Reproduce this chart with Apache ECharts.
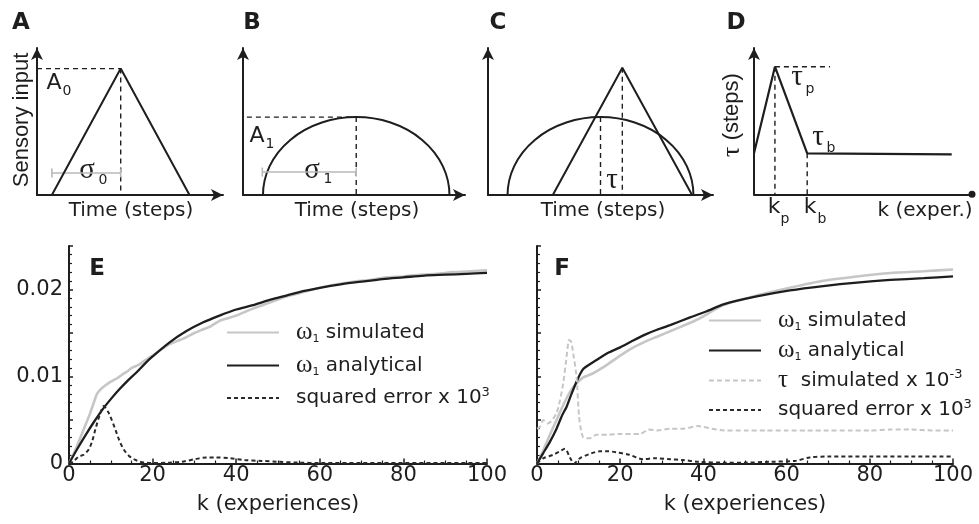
<!DOCTYPE html>
<html>
<head>
<meta charset="utf-8">
<script src="https://cdn.jsdelivr.net/npm/echarts@6.0.0/dist/echarts.min.js"></script>
<style>
  html, body { margin: 0; padding: 0; background: #fff; }
  #chart { width: 979px; height: 524px; }
</style>
</head>
<body>
<div id="chart"></div>
<script>
// ---------- schematic shapes, panels A–D (0–100 units on each small plot) ----------
const aTriangle = [[8, 0], [45, 86], [82, 0]];
const aPeakH = [[0, 86], [45, 86]];
const aPeakV = [[45, 86], [45, 0]];
const aSigma = [[8, 15], [45, 15]];

// half-ellipse: [centre, half-width, height]
const bArc = [[51, 42, 53]];
const bPeakH = [[-2.3, 53], [51, 53]];
const bPeakV = [[51, 53], [51, 0]];
const bSigma = [[8.7, 15.6], [51, 15.6]];

const cArc = [[50, 41.3, 53]];
const cTriangle = [[28.8, 0], [59.7, 86.6], [90.7, 0]];
const cArcPeakV = [[50, 53], [50, 0]];
const cTriPeakV = [[59.7, 86.6], [59.7, 0]];

const dTau = [[0, 28], [9.6, 87.2], [24.4, 28], [90.7, 27.3]];
const dPeakH = [[9.6, 87.2], [34.9, 87.2]];
const dPeakV = [[9.6, 87.2], [9.6, 0]];
const dBaseV = [[24.4, 28], [24.4, 0]];

// ---------- panel E: [k, value] ----------
const eSimulated = [[0,0],[1,0.0010],[2,0.0021],[3,0.0033],[4,0.0045],[5,0.0057],[6,0.0071],[6.7,0.0080],[7.5,0.0085],[8.5,0.0089],[10,0.0094],[11.5,0.0098],[12.7,0.0102],[14,0.0106],[15,0.0110],[16.5,0.0113],[18,0.0118],[20,0.0124],[22,0.0131],[24,0.0137],[26,0.0141],[28,0.0145],[30,0.0150],[32,0.0154],[34,0.0158],[36,0.0164],[38,0.0167],[40,0.0170],[44,0.0178],[48,0.0185],[52,0.0192],[56,0.0197],[60,0.0202],[64,0.0206],[68,0.0209],[72,0.0211],[76,0.0214],[80,0.0215],[84,0.0217],[88,0.0218],[92,0.0220],[96,0.0221],[100,0.0222]];
const eAnalytical = [[0,0],[2,0.0017],[4,0.0033],[6,0.0048],[8,0.0062],[10,0.0074],[12,0.0085],[14,0.0095],[16,0.0104],[18,0.0114],[20,0.0123],[24,0.0139],[28,0.0152],[32,0.0162],[36,0.0170],[40,0.0177],[44,0.0182],[48,0.0188],[52,0.0193],[56,0.0198],[60,0.0202],[65,0.0206],[70,0.0209],[75,0.0212],[80,0.0214],[85,0.0216],[90,0.0217],[95,0.0218],[100,0.0219]];
const eSqError = [[0,0],[1,0.0002],[2.3,0.0008],[3.5,0.0010],[4.7,0.0016],[5.5,0.0025],[6.3,0.0039],[7.3,0.0055],[8.3,0.0066],[9.5,0.0058],[11.1,0.0039],[12,0.0027],[13.1,0.0016],[14.3,0.0009],[15.5,0.0005],[17,0.0002],[18.2,0.0001],[20,0.00005],[24,0.0001],[27,0.0002],[30.2,0.0005],[33,0.0007],[35,0.0007],[38.6,0.0006],[42,0.0004],[46,0.0003],[50,0.0002],[55,0.0001],[60,0.00005],[70,0.00005],[80,0.00005],[90,0.00005],[100,0.00005]];

// ---------- panel F: [k, value] ----------
const fSimulated = [[0,0],[1.5,0.0015],[3,0.0032],[4.7,0.0050],[6,0.0064],[7.1,0.0075],[8.3,0.0085],[9.5,0.0092],[11.1,0.0099],[12.7,0.0102],[14.3,0.0106],[17,0.0114],[20,0.0124],[23,0.0133],[26.4,0.0141],[29,0.0146],[32,0.0152],[35,0.0158],[38.8,0.0166],[44.8,0.0182],[52.8,0.0193],[60.8,0.0202],[68.8,0.0210],[76.9,0.0215],[84.9,0.0219],[92.9,0.0221],[100,0.0223]];
const fAnalytical = [[0,0],[1.5,0.0012],[3,0.0024],[4.7,0.0040],[6,0.0055],[7.1,0.0065],[8.3,0.0080],[9.5,0.0094],[10.5,0.0104],[11.2,0.0109],[12.7,0.0114],[14.3,0.0119],[17,0.0127],[20,0.01335],[23,0.0141],[26.4,0.0149],[29,0.0154],[32,0.0159],[36.8,0.0168],[40.8,0.0175],[44.8,0.0183],[52.8,0.0192],[60.8,0.0199],[68.8,0.0204],[76.9,0.0208],[84.9,0.0211],[92.9,0.0213],[100,0.0215]];
const fTau = [[0,0.0040],[0.7,0.0042],[1.5,0.0050],[2.5,0.0046],[3.5,0.0049],[4.7,0.0058],[5.5,0.0072],[6.3,0.0092],[7,0.0118],[7.7,0.0142],[8.2,0.0140],[8.6,0.0130],[9.5,0.0100],[10.1,0.0054],[10.6,0.0038],[11.1,0.0030],[12.7,0.0029],[14.3,0.0033],[17,0.0033],[20,0.0034],[24.8,0.0034],[26.8,0.0039],[29,0.0038],[32,0.0040],[35,0.0040],[38.8,0.0043],[42,0.0040],[45,0.0038],[50,0.0038],[55,0.0038],[60,0.0038],[65,0.0038],[70,0.0038],[75,0.0038],[80,0.0038],[85,0.0039],[90,0.0039],[95,0.0038],[100,0.0038]];
const fSqError = [[0,0],[1.5,0.0006],[3.9,0.0010],[5.5,0.0014],[6.7,0.0017],[7.9,0.0007],[8.9,0.0000],[10.3,0.0006],[12.7,0.0011],[15.1,0.0014],[17,0.0014],[19,0.0013],[22.2,0.0010],[25.4,0.0005],[28.5,0.0006],[32,0.0005],[35,0.0004],[38.8,0.0002],[45,0.0001],[50,0.0001],[56,0.0002],[62,0.0003],[65.6,0.0007],[70,0.0008],[80,0.0008],[90,0.0008],[100,0.0008]];

// ---------- tick labels ----------
const kTickValues = [0, 20, 40, 60, 80, 100];
const yTickLabels = { 0.01: '0.01', 0.02: '0.02' };
const yOriginLabel = '0';

const INK = '#1e1e1e';
const GREY = '#c6c6c6';
const SANS = 'DejaVu Sans';
const SERIF = 'Liberation Serif';

const SIM = 'ω1 simulated';
const ANA = 'ω1 analytical';
const TAU = 'τ simulated x 10-3';
const ERR = 'squared error x 103';

// plot areas: A, B, C, D (schematics), E, F (results)
const grids = [
  { left: 37,  top: 48,  width: 186, height: 147 },
  { left: 243, top: 48,  width: 222, height: 147 },
  { left: 488, top: 48,  width: 225, height: 147 },
  { left: 754, top: 48,  width: 218, height: 146.3 },
  { left: 69,  top: 246, width: 418, height: 217.5 },
  { left: 537, top: 246, width: 416, height: 217.5 }
];

function sketchAxis(gi, endSymbol, endSize) {
  return {
    gridIndex: gi, type: 'value', min: 0, max: 100,
    axisLine: { show: true, onZero: false, symbol: ['none', endSymbol], symbolSize: endSize,
      lineStyle: { color: INK, width: 2 } },
    axisTick: { show: false }, axisLabel: { show: false }, splitLine: { show: false }
  };
}

function kAxis(gi) {
  return {
    gridIndex: gi, type: 'value', min: 0, max: 100, interval: 20,
    axisLine: { show: true, onZero: false, lineStyle: { color: INK, width: 2 } },
    axisTick: { show: true, inside: true, length: 5, lineStyle: { color: INK, width: 1.5 } },
    minorTick: { show: true, splitNumber: 4, length: 3, lineStyle: { color: INK, width: 1.2 } },
    axisLabel: { color: INK, fontFamily: SANS, fontSize: 21, margin: 2,
      formatter: v => kTickValues.includes(v) ? String(v) : '' },
    splitLine: { show: false }, minorSplitLine: { show: false },
    name: 'k (experiences)', nameLocation: 'middle', nameGap: 31,
    nameTextStyle: { color: INK, fontFamily: SANS, fontSize: 21 }
  };
}

function wAxis(gi, labels) {
  return {
    gridIndex: gi, type: 'value', min: 0, max: 0.025, interval: 0.005,
    axisLine: { show: true, onZero: false, lineStyle: { color: INK, width: 2 } },
    axisTick: { show: true, inside: true, length: 4, lineStyle: { color: INK, width: 1.5 } },
    minorTick: { show: true, splitNumber: 5, length: 3, lineStyle: { color: INK, width: 1.2 } },
    axisLabel: { show: labels, color: INK, fontFamily: SANS, fontSize: 21, margin: 6,
      formatter: v => { const key = Math.round(v * 1000) / 1000; return yTickLabels[key] !== undefined ? yTickLabels[key] : ''; } },
    splitLine: { show: false }, minorSplitLine: { show: false }
  };
}

function stroke(data, gi, extra) {
  return Object.assign({
    type: 'line', xAxisIndex: gi, yAxisIndex: gi, data: data, symbol: 'none',
    silent: true, clip: false, animation: false,
    lineStyle: { color: INK, width: 2 }
  }, extra || {});
}
const dashed = { color: INK, width: 1.4, type: [5, 4] };

function widthBar(data, gi) {
  return stroke(data, gi, {
    symbol: 'rect', symbolSize: [1.6, 9], showSymbol: true,
    itemStyle: { color: '#b9b9b9' }, lineStyle: { color: '#b9b9b9', width: 1.5 }
  });
}

function halfEllipse(data, gi) {
  return {
    type: 'custom', xAxisIndex: gi, yAxisIndex: gi, data: data, silent: true, clip: false,
    renderItem: function (params, api) {
      const cx = api.value(0), hw = api.value(1), h = api.value(2);
      const l = api.coord([cx - hw, 0]);
      const r = api.coord([cx + hw, 0]);
      const t = api.coord([cx, h]);
      const rx = (r[0] - l[0]) / 2, ry = l[1] - t[1];
      return {
        type: 'path',
        shape: { pathData: 'M' + l[0] + ' ' + l[1] + ' A' + rx + ' ' + ry + ' 0 0 1 ' + r[0] + ' ' + r[1] },
        style: { fill: 'none', stroke: INK, lineWidth: 2 }
      };
    }
  };
}

function resultLine(name, data, gi, lineStyle, smooth) {
  return {
    type: 'line', name: name, xAxisIndex: gi, yAxisIndex: gi, data: data,
    symbol: 'none', smooth: smooth, silent: true, lineStyle: lineStyle,
    itemStyle: { color: lineStyle.color }
  };
}

function txt(x, y, text, font, extra, rotation) {
  return {
    type: 'text', x: x, y: y, silent: true, rotation: rotation || 0,
    style: Object.assign({ text: text, fill: INK, font: font, align: 'center', verticalAlign: 'middle' }, extra || {})
  };
}
const panelFont = 'bold 23px "DejaVu Sans"';
const axisFont = '20px "DejaVu Sans"';
const mainFont = '22px "DejaVu Sans"';
const subFont = '14px "DejaVu Sans"';
const greekFont = '29px "Liberation Serif"';
const white = { backgroundColor: '#fff', padding: [0, 2] };

const legendText = {
  color: INK, fontFamily: SANS, fontSize: 20, lineHeight: 24,
  rich: {
    gap: { width: 12 },
    g: { fontFamily: SERIF, fontSize: 25, lineHeight: 24 },
    sub: { fontSize: 11, lineHeight: 12, verticalAlign: 'bottom' },
    sup: { fontSize: 13, lineHeight: 14, verticalAlign: 'top' }
  }
};
function legendLabel(name) {
  if (name === SIM) return '{gap|}{g|ω}{sub|1} simulated';
  if (name === ANA) return '{gap|}{g|ω}{sub|1} analytical';
  if (name === TAU) return '{gap|}{g|τ}  simulated x 10{sup|-3}';
  return '{gap|}squared error x 10{sup|3}';
}
const legendBase = {
  orient: 'vertical', padding: 0, itemWidth: 52, itemHeight: 14,
  selectedMode: false, formatter: legendLabel, textStyle: legendText,
  itemStyle: { opacity: 0 }
};

const option = {
  animation: false,
  backgroundColor: '#fff',
  grid: grids,
  xAxis: [
    sketchAxis(0, 'arrow', [9, 12]), sketchAxis(1, 'arrow', [9, 12]),
    sketchAxis(2, 'arrow', [9, 12]), sketchAxis(3, 'circle', [7, 7]),
    kAxis(4), kAxis(5)
  ],
  yAxis: [
    sketchAxis(0, 'arrow', [9, 12]), sketchAxis(1, 'arrow', [9, 12]),
    sketchAxis(2, 'arrow', [9, 12]), sketchAxis(3, 'arrow', [9, 12]),
    wAxis(4, true), wAxis(5, false)
  ],
  legend: [
    Object.assign({ left: 226, top: 320, itemGap: 8, data: [SIM, ANA, ERR] }, legendBase),
    Object.assign({ left: 708, top: 308, itemGap: 5, data: [SIM, ANA, TAU, ERR] }, legendBase)
  ],
  series: [
    // A
    stroke(aPeakH, 0, { lineStyle: dashed }), stroke(aPeakV, 0, { lineStyle: dashed }),
    widthBar(aSigma, 0), stroke(aTriangle, 0),
    // B
    stroke(bPeakH, 1, { lineStyle: dashed }), stroke(bPeakV, 1, { lineStyle: dashed }),
    widthBar(bSigma, 1), halfEllipse(bArc, 1),
    // C
    stroke(cArcPeakV, 2, { lineStyle: dashed }), stroke(cTriPeakV, 2, { lineStyle: dashed }),
    halfEllipse(cArc, 2), stroke(cTriangle, 2),
    // D
    stroke(dPeakH, 3, { lineStyle: dashed }), stroke(dPeakV, 3, { lineStyle: dashed }),
    stroke(dBaseV, 3, { lineStyle: dashed }), stroke(dTau, 3, { lineStyle: { color: INK, width: 2.2 } }),
    // E
    resultLine(SIM, eSimulated, 4, { color: GREY, width: 2.6 }, 0.2),
    resultLine(ANA, eAnalytical, 4, { color: INK, width: 2.3 }, 0.3),
    resultLine(ERR, eSqError, 4, { color: '#2a2a2a', width: 2, type: [4, 3] }, 0.3),
    // F
    resultLine(SIM, fSimulated, 5, { color: GREY, width: 2.6 }, 0.2),
    resultLine(ANA, fAnalytical, 5, { color: INK, width: 2.3 }, 0.2),
    resultLine(TAU, fTau, 5, { color: GREY, width: 2, type: [5, 3] }, 0.2),
    resultLine(ERR, fSqError, 5, { color: '#2a2a2a', width: 2, type: [4, 3] }, 0.3)
  ],
  graphic: { elements: [
    // panel letters
    txt(21, 23, 'A', panelFont), txt(252, 23, 'B', panelFont), txt(498, 23, 'C', panelFont),
    txt(736, 23, 'D', panelFont), txt(97, 269, 'E', panelFont), txt(562, 269, 'F', panelFont),
    // origin label of the E value axis
    txt(63, 464, yOriginLabel, '21px "DejaVu Sans"', { align: 'right' }),
    // A
    txt(22, 120, 'Sensory input', '22px "Liberation Sans"', {}, Math.PI / 2),
    txt(131, 211, 'Time (steps)', axisFont),
    txt(54, 83, 'A', mainFont), txt(67, 91, '0', subFont),
    txt(87, 170, 'σ', greekFont, white), txt(103, 180, '0', subFont, white),
    // B
    txt(257, 136, 'A', mainFont), txt(270, 144, '1', subFont),
    txt(357, 211, 'Time (steps)', axisFont),
    txt(312, 170, 'σ', greekFont, white), txt(328, 179, '1', subFont, white),
    // C
    txt(603, 211, 'Time (steps)', axisFont),
    txt(612, 180, 'τ', greekFont),
    // D
    txt(732, 115, '{t|τ} (steps)', '22px "Liberation Sans"', { rich: { t: { fontFamily: SERIF, fontSize: 26 } } }, Math.PI / 2),
    txt(797, 77, 'τ', greekFont), txt(810, 89, 'p', subFont),
    txt(818, 137, 'τ', greekFont), txt(831, 148, 'b', subFont),
    txt(774, 207, 'k', mainFont), txt(785, 219, 'p', subFont),
    txt(810, 207, 'k', mainFont), txt(822, 219, 'b', subFont),
    txt(925, 211, 'k (exper.)', axisFont)
  ] }
};

const chart = echarts.init(document.getElementById('chart'), null, { renderer: 'canvas' });
chart.setOption(option);
</script>
</body>
</html>
